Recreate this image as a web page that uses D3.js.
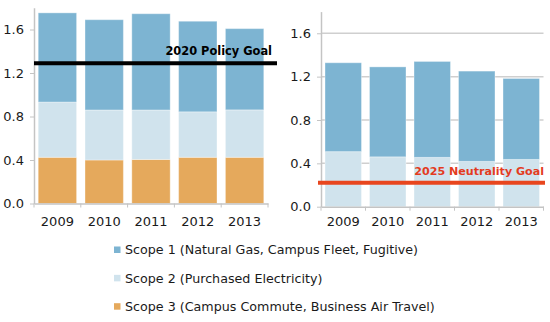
<!DOCTYPE html>
<html>
<head>
<meta charset="utf-8">
<script src="https://cdn.jsdelivr.net/npm/d3@7"></script>
<style>
  body { margin: 0; background: #fff; }
  text { font-family: "DejaVu Sans", Verdana, sans-serif; fill: #1a1a1a; }
</style>
</head>
<body>
<div id="chart"></div>
<script>
// data (segment heights, stacked bottom to top: scope 3, scope 2, scope 1)
const years = ["2009", "2010", "2011", "2012", "2013"];
const scope1 = [0.82, 0.83, 0.885, 0.833, 0.747];
const scope2 = [0.508, 0.46, 0.455, 0.418, 0.436];
const scope3 = [0.425, 0.40, 0.405, 0.425, 0.425];
const yTicks = [0, 0.4, 0.8, 1.2, 1.6];
const policyGoal = 1.29;
const neutralityGoal = 0.22;
const legendLabels = [
  "Scope 1 (Natural Gas, Campus Fleet, Fugitive)",
  "Scope 2 (Purchased Electricity)",
  "Scope 3 (Campus Commute, Business Air Travel)"
];

const colors = { s1: "#7db4d2", s2: "#d0e3ed", s3: "#e5a95c" };

const svg = d3.select("#chart").append("svg")
  .attr("width", 550)
  .attr("height", 322);

function drawPanel(opts) {
  const x = d3.scaleBand()
    .domain(years)
    .range([opts.x0, opts.x1])
    .paddingInner(0.18)
    .paddingOuter(0.09);
  const y = d3.scaleLinear()
    .domain([0, 1.8])
    .range([opts.y0, opts.y1]);

  const g = svg.append("g");

  // gridlines
  if (opts.grid) {
    g.selectAll(".grid")
      .data(yTicks.filter(d => d > 0))
      .enter().append("line")
      .attr("x1", opts.x0).attr("x2", opts.gridEnd)
      .attr("y1", d => y(d)).attr("y2", d => y(d))
      .attr("stroke", "#cfcfcf")
      .attr("stroke-width", 1.5);
  }

  // stacked bars
  const rows = years.map((yr, i) => {
    const r = { year: yr, s1: scope1[i], s2: scope2[i], s3: opts.withScope3 ? scope3[i] : 0 };
    return r;
  });
  const keys = opts.withScope3 ? ["s3", "s2", "s1"] : ["s2", "s1"];
  const stacked = d3.stack().keys(keys)(rows);

  g.selectAll(".layer")
    .data(stacked)
    .enter().append("g")
    .attr("fill", d => colors[d.key])
    .selectAll("rect")
    .data(d => d)
    .enter().append("rect")
    .attr("x", d => x(d.data.year))
    .attr("width", x.bandwidth())
    .attr("y", d => y(d[1]))
    .attr("height", d => y(d[0]) - y(d[1]))
    .attr("stroke", "rgba(255,255,255,0.35)")
    .attr("stroke-width", 1);

  // y axis
  const yAxis = g.append("g")
    .attr("transform", `translate(${opts.x0},0)`)
    .call(d3.axisLeft(y).tickValues(yTicks).tickFormat(d3.format(".1f")).tickSize(4).tickSizeOuter(0).tickPadding(6));
  yAxis.select(".domain").attr("stroke", "#c4c4c4").attr("stroke-width", 1.5);
  yAxis.selectAll(".tick line").attr("stroke", "#c4c4c4");
  yAxis.selectAll(".tick text").attr("font-size", 13).attr("fill", "#1a1a1a");

  // x axis, labels centred on the bands, ticks at the band boundaries
  const xAxis = g.append("g")
    .attr("transform", `translate(0,${opts.y0})`)
    .call(d3.axisBottom(x).tickSize(0).tickPadding(opts.xPad));
  xAxis.select(".domain").attr("stroke", "#c4c4c4").attr("stroke-width", 1.5);
  xAxis.selectAll(".tick text").attr("font-size", 13).attr("fill", "#1a1a1a");

  const edge = d3.scaleLinear().domain([0, years.length]).range([opts.x0, opts.x1]);
  xAxis.selectAll(".bound")
    .data(d3.range(years.length + 1))
    .enter().append("line")
    .attr("x1", d => edge(d)).attr("x2", d => edge(d))
    .attr("y1", 0).attr("y2", 4)
    .attr("stroke", "#c4c4c4");

  // goal line
  g.append("line")
    .attr("x1", opts.goalX0).attr("x2", opts.goalX1)
    .attr("y1", y(opts.goal)).attr("y2", y(opts.goal))
    .attr("stroke", opts.goalColor)
    .attr("stroke-width", 4);
  g.append("text")
    .attr("x", opts.goalLabelX)
    .attr("y", y(opts.goal) - 8)
    .attr("text-anchor", "end")
    .attr("font-family", "'Liberation Sans', Arial, sans-serif")
    .attr("font-weight", "bold")
    .attr("font-size", opts.goalSize)
    .style("fill", opts.goalColor === "#000" ? "#000" : "#e33c1f")
    .text(opts.goalLabel);
}

drawPanel({
  x0: 34, x1: 268, y0: 203.5, y1: 7.75, xPad: 13.5,
  withScope3: true, grid: false,
  goal: policyGoal, goalColor: "#000", goalLabel: "2020 Policy Goal", goalSize: 11.4,
  goalX0: 34, goalX1: 277, goalLabelX: 272
});

drawPanel({
  x0: 321, x1: 543.5, y0: 206.7, y1: 11.6, xPad: 10.5,
  withScope3: false, grid: true, gridEnd: 543.5,
  goal: neutralityGoal, goalColor: "#e8461e", goalLabel: "2025 Neutrality Goal", goalSize: 11.1,
  goalX0: 318, goalX1: 545, goalLabelX: 544
});

// legend
const legendColors = [colors.s1, colors.s2, colors.s3];
const legendY = d3.scalePoint().domain(legendLabels).range([250, 306.7]);
const legend = svg.append("g");
legend.selectAll("rect")
  .data(legendLabels)
  .enter().append("rect")
  .attr("x", 114)
  .attr("y", d => legendY(d) - 3.5)
  .attr("width", 6.5).attr("height", 6.5)
  .attr("fill", (d, i) => legendColors[i]);
legend.selectAll("text")
  .data(legendLabels)
  .enter().append("text")
  .attr("x", 125)
  .attr("y", d => legendY(d))
  .attr("dy", "0.35em")
  .attr("font-size", 12.7)
  .text(d => d);
</script>
</body>
</html>
